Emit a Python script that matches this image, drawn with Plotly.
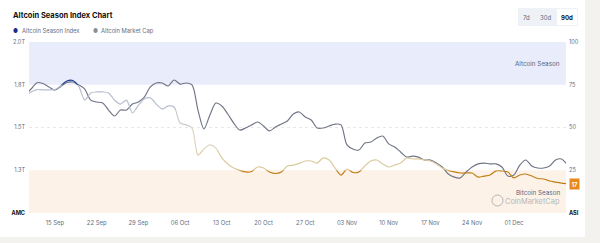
import plotly.graph_objects as go
import pandas as pd

# ---------------- data ----------------
dates = pd.date_range("2024-09-10", "2024-12-10", freq="D")

# Altcoin Season Index (0-100)
asi = [68.4, 70.8, 72.2, 72.0, 72.0, 72.2, 74.6, 77.2, 77.5, 74.0,
       66.0, 70.2, 70.8, 70.8, 70.2, 66.0, 63.7, 66.0, 58.5, 63.0, 66.7,   # Sep 10-30
       67.3, 63.7, 60.8, 62.6, 62.0, 52.6, 51.5, 49.7, 33.9, 37.4,
       39.8, 38.0, 32.2, 28.7, 26.3, 25.0, 24.0, 24.3, 26.9, 26.3,
       24.0, 23.1, 24.0, 27.5, 28.0, 29.0, 30.4, 30.4, 29.2, 32.2, 31.0,  # Oct
       26.3, 22.2, 25.7, 23.7, 24.0, 27.5, 30.4, 31.0, 28.7, 26.9,
       28.0, 29.2, 32.2, 31.6, 31.6, 31.0, 30.4, 28.7, 26.3, 24.9,
       24.0, 23.4, 23.4, 23.4, 21.0, 21.6, 22.2, 24.6, 24.6, 24.0,        # Nov
       20.5, 22.2, 22.8, 21.6, 20.2, 19.9, 18.7, 18.1, 17.5, 17.0]        # Dec 1-10

# Altcoin Market Cap (trillion USD)
mcap = [1.690, 1.725, 1.762, 1.757, 1.737, 1.719, 1.740, 1.763, 1.766, 1.749,
        1.725, 1.660, 1.649, 1.643, 1.602, 1.567, 1.602, 1.602, 1.637, 1.649, 1.678,
        1.737, 1.760, 1.760, 1.743, 1.778, 1.754, 1.760, 1.749, 1.602, 1.491,
        1.573, 1.643, 1.626, 1.579, 1.526, 1.485, 1.497, 1.515, 1.532, 1.509,
        1.480, 1.503, 1.520, 1.538, 1.579, 1.591, 1.561, 1.544, 1.497, 1.497, 1.509,
        1.520, 1.515, 1.398, 1.374, 1.368, 1.409, 1.415, 1.439, 1.450, 1.404,
        1.386, 1.357, 1.327, 1.333, 1.327, 1.310, 1.310, 1.292, 1.269, 1.228,
        1.210, 1.205, 1.240, 1.269, 1.287, 1.292, 1.287, 1.287, 1.269, 1.216,
        1.222, 1.280, 1.310, 1.275, 1.263, 1.263, 1.275, 1.310, 1.316, 1.280]

x_ticks = ["2024-09-15", "2024-09-22", "2024-09-29", "2024-10-06", "2024-10-13",
           "2024-10-20", "2024-10-27", "2024-11-03", "2024-11-10", "2024-11-17",
           "2024-11-24", "2024-12-01"]
x_tick_text = ["15 Sep", "22 Sep", "29 Sep", "06 Oct", "13 Oct", "20 Oct",
               "27 Oct", "03 Nov", "10 Nov", "17 Nov", "24 Nov", "01 Dec"]

left_vals = [1.0, 1.25, 1.5, 1.75, 2.0]
left_text = ["AMC", "1.3T", "1.5T", "1.8T", "2.0T"]
right_vals = [0, 25, 50, 75, 100]
right_text = ["ASI", "25", "50", "75", "100"]

# colour bands of the index line: (low, high, colour)
bands = [(0, 25, "#c27d14"), (25, 37, "#dccba0"), (37, 50, "#e0d6c0"),
         (50, 60, "#c9cad0"), (60, 75, "#b9bed0"), (75, 100, "#1f3a93")]

FONT = "Inter"
GREY = "#616e85"

fig = go.Figure()

fig.add_trace(go.Scatter(x=dates, y=mcap, mode="lines", name="Altcoin Market Cap",
                         line=dict(color="#6f7585", width=1.15, shape="spline", smoothing=0.8),
                         xaxis="x", yaxis="y", hoverinfo="skip"))

layout_axes = {}
for i, (lo, hi, col) in enumerate(bands):
    ax = f"y{i+3}"
    fig.add_trace(go.Scatter(x=dates, y=asi, mode="lines", name="Altcoin Season Index",
                             line=dict(color=col, width=1.2, shape="spline", smoothing=0.8),
                             xaxis="x", yaxis=ax, hoverinfo="skip", showlegend=False))
    layout_axes[f"yaxis{i+3}"] = dict(domain=[lo / 100, hi / 100], range=[lo, hi],
                                      visible=False, anchor="x", fixedrange=True)

# dummy trace to activate the right axis
fig.add_trace(go.Scatter(x=[dates[0]], y=[None], xaxis="x", yaxis="y2", showlegend=False))

PL, PR, PT, PB = 29, 566, 42, 213
def px(xp):
    return (xp - PL) / (PR - PL)
def py(yp):
    return (PB - yp) / (PB - PT)

shapes = [
    dict(type="rect", xref="paper", yref="paper", x0=px(0), x1=px(585), y0=py(237), y1=py(0),
         fillcolor="white", line=dict(width=0), layer="below"),
    dict(type="rect", xref="paper", yref="paper", x0=0, x1=1, y0=0.75, y1=1,
         fillcolor="#e9ecfb", line=dict(width=0), layer="below"),
    dict(type="rect", xref="paper", yref="paper", x0=0, x1=1, y0=0, y1=0.25,
         fillcolor="#fcf2e8", line=dict(width=0), layer="below"),
    dict(type="line", xref="paper", yref="paper", x0=0, x1=1, y0=0.5, y1=0.5,
         line=dict(color="#e2e2e2", width=0.8, dash="dot"), layer="below"),
    # range buttons
    dict(type="rect", xref="paper", yref="paper", x0=px(518), x1=px(578), y0=py(26), y1=py(8),
         fillcolor="#eef1f5", line=dict(width=0)),
    dict(type="rect", xref="paper", yref="paper", x0=px(557), x1=px(577), y0=py(25), y1=py(9),
         fillcolor="white", line=dict(width=0)),
    # watermark logo
    dict(type="circle", xref="paper", yref="paper", x0=px(492), x1=px(503), y0=py(206), y1=py(195),
         line=dict(color="#b5b5b5", width=1)),
]

ann = [
    dict(text="<b>Altcoin Season Index Chart</b>", x=px(11), y=py(16), xanchor="left", yanchor="middle",
         font=dict(size=7.5, color="#111111")),
    dict(text="●", x=px(10.5), y=py(31), xanchor="left", yanchor="middle",
         font=dict(size=5.5, color="#1a2c8c")),
    dict(text="Altcoin Season Index", x=px(19.5), y=py(31), xanchor="left", yanchor="middle",
         font=dict(size=5.8, color=GREY)),
    dict(text="●", x=px(90.5), y=py(31), xanchor="left", yanchor="middle",
         font=dict(size=5.5, color="#8a8f99")),
    dict(text="Altcoin Market Cap", x=px(99), y=py(31), xanchor="left", yanchor="middle",
         font=dict(size=5.8, color=GREY)),
    dict(text="7d", x=px(526), y=py(17), xanchor="center", yanchor="middle",
         font=dict(size=6, color=GREY)),
    dict(text="30d", x=px(545), y=py(17), xanchor="center", yanchor="middle",
         font=dict(size=6, color=GREY)),
    dict(text="<b>90d</b>", x=px(567), y=py(17), xanchor="center", yanchor="middle",
         font=dict(size=6, color="#111111")),
    dict(text="Altcoin Season", x=px(562), y=py(64), xanchor="right", yanchor="middle",
         font=dict(size=6.3, color="#58667e")),
    dict(text="Bitcoin Season", x=px(562), y=py(193), xanchor="right", yanchor="middle",
         font=dict(size=6.3, color="#58667e")),
    dict(text="CoinMarketCap", x=px(562), y=py(201), xanchor="right", yanchor="middle",
         font=dict(size=7.4, color="#b8b8b8")),
    dict(text="<b>17</b>", x=px(569), y=asi[-1], yref="y2", xanchor="left", yanchor="middle",
         bgcolor="#e8891c", borderpad=1.5, font=dict(size=5.8, color="white")),
]
for a in ann:
    a.setdefault("xref", "paper")
    a.setdefault("yref", "paper")
    a["showarrow"] = False

fig.update_layout(
    width=600, height=243,
    margin=dict(l=PL, r=600 - PR, t=PT, b=243 - PB),
    paper_bgcolor="#f4f2ef", plot_bgcolor="rgba(0,0,0,0)",
    showlegend=False,
    font=dict(family=FONT, color=GREY),
    xaxis=dict(range=["2024-09-10 15:36", "2024-12-09 18:00"], tickvals=x_ticks, ticktext=x_tick_text,
               showgrid=False, zeroline=False, showline=False, ticks="", ticklabelstandoff=5,
               tickfont=dict(size=5.9, color=GREY), anchor="y", fixedrange=True),
    yaxis=dict(range=[1, 2], tickvals=left_vals,
               ticktext=["<span style='color:#111'><b>AMC</b></span>"] + left_text[1:],
               showgrid=False, zeroline=False, showline=False, ticks="", ticklabelstandoff=3,
               tickfont=dict(size=5.6, color=GREY), domain=[0, 1], fixedrange=True),
    yaxis2=dict(range=[0, 100], tickvals=right_vals,
                ticktext=["<span style='color:#111'><b>ASI</b></span>"] + right_text[1:],
                overlaying="y", side="right", anchor="x",
                showgrid=False, zeroline=False, showline=False, ticks="", ticklabelstandoff=2,
                tickfont=dict(size=5.6, color=GREY), fixedrange=True),
    shapes=shapes, annotations=ann,
    **layout_axes,
)

fig.write_html("out.html")
